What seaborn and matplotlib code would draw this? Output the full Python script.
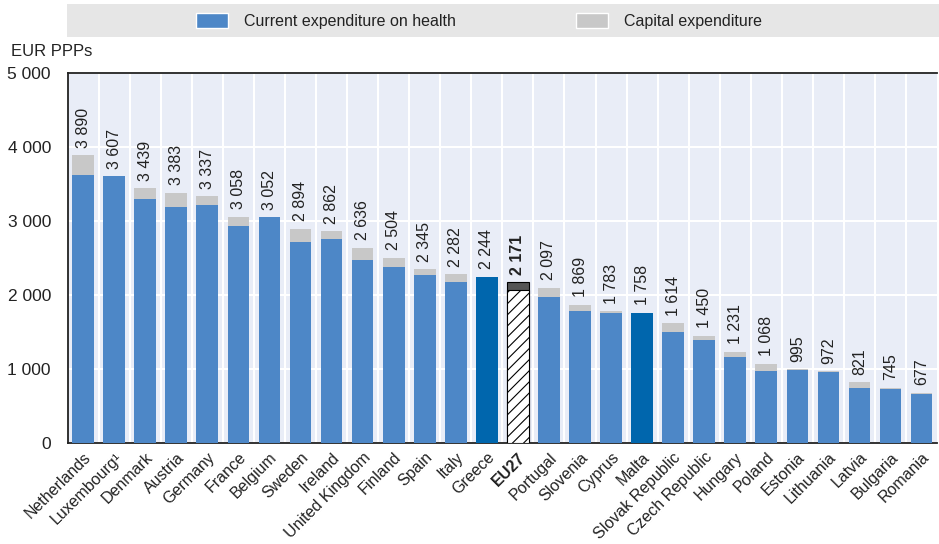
import numpy as np
import pandas as pd
import seaborn as sns
import matplotlib.pyplot as plt
from matplotlib.patches import Patch, Rectangle

# Daten
countries = ["Netherlands", "Luxembourg\u00b9", "Denmark", "Austria", "Germany", "France",
             "Belgium", "Sweden", "Ireland", "United Kingdom", "Finland", "Spain", "Italy",
             "Greece", "EU27", "Portugal", "Slovenia", "Cyprus", "Malta", "Slovak Republic",
             "Czech Republic", "Hungary", "Poland", "Estonia", "Lithuania", "Latvia",
             "Bulgaria", "Romania"]
total = [3890, 3607, 3439, 3383, 3337, 3058, 3052, 2894, 2862, 2636, 2504, 2345, 2282,
         2244, 2171, 2097, 1869, 1783, 1758, 1614, 1450, 1231, 1068, 995, 972, 821, 745, 677]
current = [3620, 3600, 3300, 3190, 3210, 2930, 3052, 2720, 2750, 2475, 2370, 2270, 2180,
           2244, 2070, 1965, 1775, 1750, 1758, 1500, 1395, 1165, 975, 980, 955, 735, 725, 660]

blue = "#4d87c7"
dark_blue = "#0066ad"
grey = "#c8c8c8"
bg = "#e9edf7"

df = pd.DataFrame({"country": countries, "total": total, "current": current})

sns.set_style("white")
plt.rcParams["font.family"] = ["Liberation Sans Narrow", "Liberation Sans", "DejaVu Sans"]
plt.rcParams["hatch.linewidth"] = 0.8

fig = plt.figure(figsize=(9.39, 5.44), dpi=100)
ax = fig.add_axes([0.072, 0.186, 0.926, 0.68])
ax.set_facecolor(bg)

# Gesamt (grau) und laufende Ausgaben (blau) uebereinander
sns.barplot(data=df, x="country", y="total", color=grey, width=0.7,
            saturation=1, linewidth=0, ax=ax, zorder=2)
n = len(countries)
sns.barplot(data=df, x="country", y="current", color=blue, width=0.7,
            saturation=1, linewidth=0, ax=ax, zorder=3)

bars_total = ax.patches[:n]
bars_cur = ax.patches[n:2 * n]
for i, c in enumerate(countries):
    if c in ("Greece", "Malta"):
        bars_cur[i].set_facecolor(dark_blue)
    if c == "EU27":
        bars_total[i].set_facecolor("#555555")
        bars_total[i].set_edgecolor("black")
        bars_total[i].set_linewidth(0.8)
        bars_cur[i].set_facecolor("white")
        bars_cur[i].set_edgecolor("black")
        bars_cur[i].set_hatch("///")
        bars_cur[i].set_linewidth(0.8)

# Werte ueber den Balken
for i, (c, t) in enumerate(zip(countries, total)):
    lab = f"{t:,}".replace(",", " ")
    ax.text(i, t + 100, lab, rotation=90, ha="center", va="bottom", fontsize=11.5,
            color="#222222", fontweight="bold" if c == "EU27" else "normal")

ax.set_xlim(-0.5, n - 0.5)
ax.set_ylim(0, 5000)
ax.set_yticks(range(0, 5001, 1000))
ax.set_yticklabels([f"{v:,}".replace(",", " ") for v in range(0, 5001, 1000)],
                   fontsize=12.5, color="#222222")
ax.set_xticks(range(n))
ax.set_xticklabels(countries, rotation=45, ha="right", rotation_mode="anchor",
                   fontsize=11.5, color="#222222")
for lbl in ax.get_xticklabels():
    if lbl.get_text() == "EU27":
        lbl.set_fontweight("bold")
ax.set_xticks(np.arange(0.5, n - 0.5, 1), minor=True)
ax.tick_params(axis="x", which="major", length=0, pad=5)
ax.tick_params(axis="x", which="minor", direction="in", length=5, width=1.3, color="black")
ax.tick_params(axis="y", direction="in", length=6, width=1.3, color="black", pad=12)

ax.grid(axis="y", color="white", linewidth=1.5, zorder=1)
ax.grid(axis="x", which="minor", color="white", linewidth=1.5, zorder=1)
ax.set_axisbelow(True)
ax.set_xlabel("")
ax.set_ylabel("")

for s in ["left", "bottom", "top"]:
    ax.spines[s].set_color("#222222")
    ax.spines[s].set_linewidth(1.3)
ax.spines["right"].set_visible(False)

fig.text(0.012, 0.905, "EUR PPPs", fontsize=12, ha="left", va="center", color="#222222")

# Legende im grauen Kasten
fig.patches.append(Rectangle((0.071, 0.932), 0.929, 0.06, transform=fig.transFigure,
                             facecolor="#e6e6e6", edgecolor="none", zorder=0))
handles = [Patch(facecolor=blue, label="Current expenditure on health"),
           Patch(facecolor=grey, label="Capital expenditure")]
fig.legend(handles=handles, loc="center", bbox_to_anchor=(0.51, 0.962), ncol=2,
           frameon=False, fontsize=11.5, handlelength=2.0, handleheight=1.1,
           columnspacing=7.5, handletextpad=1.0, labelcolor="#222222")

plt.savefig("out.png", dpi=100)
